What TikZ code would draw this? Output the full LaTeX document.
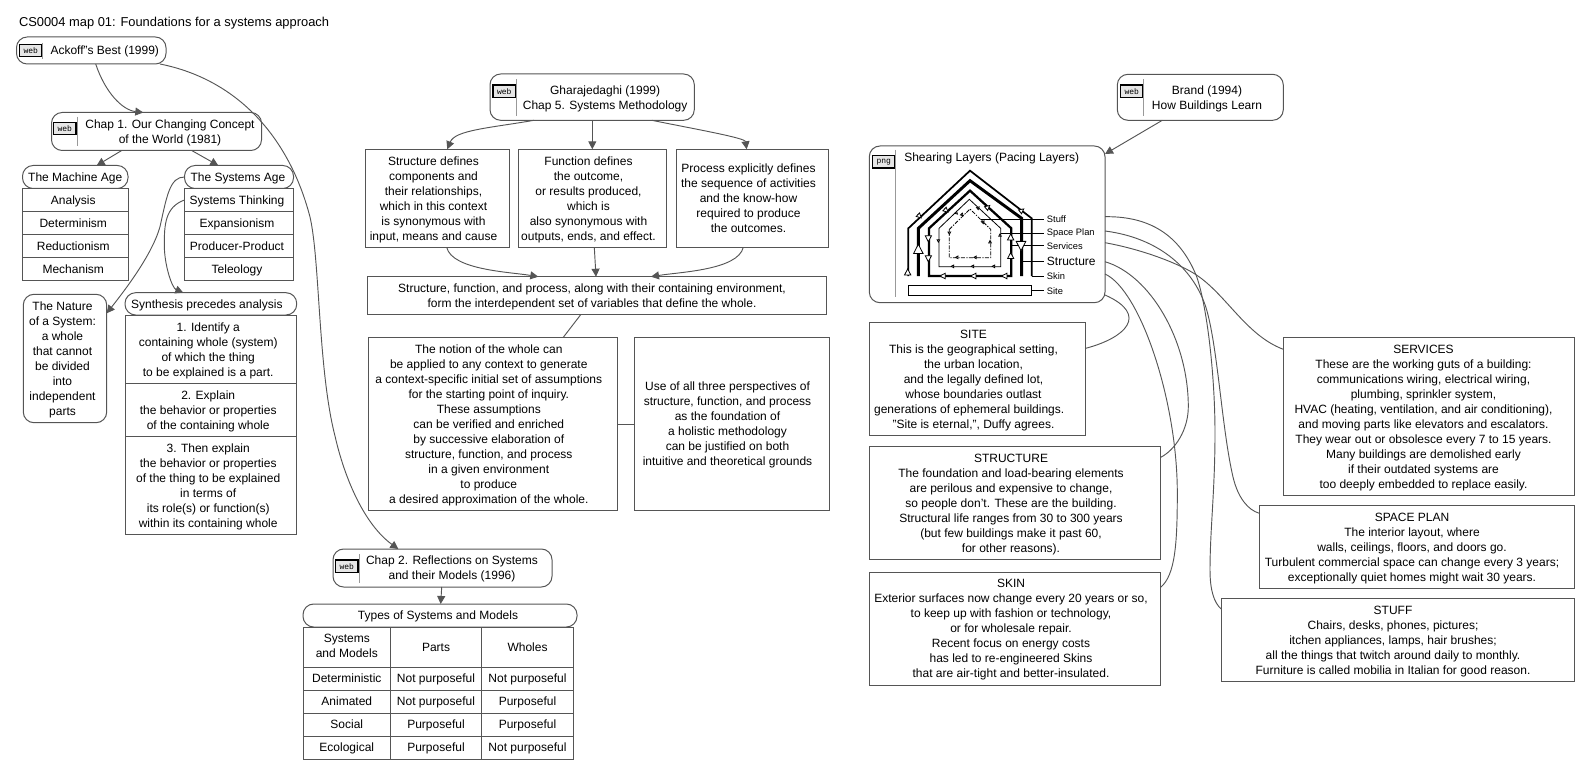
\documentclass[tikz,border=0pt]{standalone}
\usepackage{fontspec}
\setmainfont{Liberation Sans}
\setmonofont{Liberation Mono}
\usetikzlibrary{calc,arrows.meta}

\definecolor{linecol}{HTML}{555555}
\definecolor{sepcol}{HTML}{999999}
\definecolor{iconcol}{HTML}{E6E6E6}

\newcommand{\textpad}[2]{\hspace*{0.75\dimexpr#1pt\relax}\begin{tabular}{@{}c@{}}\rule{0pt}{10pt}#2\end{tabular}}

\tikzset{
    cellbox/.style 2 args={draw=linecol,line width=0.75pt,anchor=north west,inner sep=0pt,outer sep=0pt,
        minimum width=#1*0.75pt,minimum height=#2*0.75pt,align=center,
        font=\fontsize{9}{11.25}\selectfont,
        execute at begin node={\rule{0pt}{8.4pt}},execute at end node={\rule[-2pt]{0pt}{2pt}}},
    roundbox/.style 2 args={cellbox={#1}{#2},rounded corners=8pt},
    icon/.style={draw=black,line width=0.8pt,fill=iconcol,anchor=north west,inner sep=0pt,outer sep=0pt,
        minimum width=22.5*0.75pt,minimum height=12.3*0.75pt,font=\ttfamily\fontsize{6}{7}\selectfont},
    sepline/.style={draw=sepcol,line width=0.6pt},
    link/.style={draw=linecol,line width=0.7pt},
    arrowlink/.style={link,-{Triangle[length=6pt,width=6pt]}},
    plain/.style={inner sep=0pt,outer sep=0pt,font=\fontsize{9}{11.25}\selectfont},
    small/.style={inner sep=0pt,anchor=west,font=\fontsize{7}{8}\selectfont},
    tipline/.style={draw=black,line width=0.6pt,-{Triangle[open,fill=white,length=#1,width=#1]},shorten >=-1pt},
}

\begin{document}
\begin{tikzpicture}[x=0.75pt,y=-0.75pt]
    \useasboundingbox (0,0) rectangle (1591,777);

    \node[plain,anchor=west,font=\fontsize{9.67}{12}\selectfont] (title) at (19,23.5) {CS0004 map 01: Foundations for a systems approach};

    % left column
    \node[roundbox={149.5}{27}] (ackoff) at (16.5,37) {\textpad{27}{Ackoff"s Best (1999)}};
    \node[icon] (ackoffweb) at (19.5,44.5) {web};
    \draw[sepline] (42.3,42.7) -- (42.3,59.3);

    \node[roundbox={210}{38}] (chapone) at (51.5,112.5) {\textpad{27}{Chap 1. Our Changing Concept\\of the World (1981)}};
    \node[icon] (chaponeweb) at (53.5,122.5) {web};
    \draw[sepline] (77.3,116.7) -- (77.3,145.7);

    \node[roundbox={105.5}{23}] (machine) at (22.5,165.5) {The Machine Age};
    \node[roundbox={109}{23}] (sysage) at (184.5,165.5) {\textpad{-2}{The Systems Age}};
    \foreach \i/\t in {0/Analysis,1/Determinism,2/Reductionism,3/Mechanism}
    {
        \node[cellbox={105.5}{23}] (machine\i) at (22.5,{188.5+\i*23}) {\textpad{-4}{\t}};
    };
    \foreach \i/\t in {0/Systems Thinking,1/Expansionism,2/Producer-Product,3/Teleology}
    {
        \node[cellbox={109}{23}] (sysage\i) at (184.5,{188.5+\i*23}) {\textpad{-4}{\t}};
    };

    \node[roundbox={83.4}{128.4}] (nature) at (23.3,294.3) {\textpad{-5}{The Nature\\of a System:\\a whole\\that cannot\\be divided\\into\\independent\\parts}};
    \node[roundbox={171.7}{22.3}] (synth) at (125,292.7) {\textpad{-8}{Synthesis precedes analysis}};
    \node[cellbox={171}{68.3}] (synthone) at (125.7,315) {\textpad{-6}{1. Identify a\\containing whole (system)\\of which the thing\\to be explained is a part.}};
    \node[cellbox={171}{53}] (synthtwo) at (125.7,383.3) {\textpad{-6}{2. Explain\\the behavior or properties\\of the containing whole}};
    \node[cellbox={171}{98}] (synththree) at (125.7,436.3) {\textpad{-6}{3. Then explain\\the behavior or properties\\of the thing to be explained\\in terms of\\its role(s) or function(s)\\within its containing whole}};

    \draw[arrowlink] (95.7,0 |- ackoff.south) .. controls (105,92) and (122,110) .. (143.3,0 |- chapone.north);
    \draw[arrowlink] (121.7,0 |- chapone.south) -- (96.7,0 |- machine.north);
    \draw[arrowlink] (191.7,0 |- chapone.south) -- (218.3,0 |- sysage.north);
    \draw[arrowlink] (sysage.west) .. controls (170,177) and (167,195) .. (160,226.7) .. controls (152,255) and (125,290) .. (nature.east |- 0,313.3);
    \draw[arrowlink] (sysage0.west) .. controls (165,207) and (164.3,225) .. (164.3,245) .. controls (164.3,265) and (172,288) .. (183.3,0 |- synth.north);

    % chapter 2 and its table
    \node[roundbox={219}{38}] (chaptwo) at (333,549) {\textpad{19}{Chap 2. Reflections on Systems\\and their Models (1996)}};
    \node[icon] (chaptwoweb) at (335.5,560) {web};
    \draw[sepline] (359.3,554) -- (359.3,582.7);
    \node[roundbox={274}{23}] (types) at (303,604) {\textpad{-4}{Types of Systems and Models}};
    \node[cellbox={87}{40}] (typehead) at (303.3,627) {Systems\\and Models};
    \node[cellbox={91.4}{40}] (typeparts) at (390.3,627) {Parts};
    \node[cellbox={91.6}{40}] (typewholes) at (481.7,627) {Wholes};
    \foreach \i/\a/\b/\c in {0/Deterministic/Not purposeful/Not purposeful,
        1/Animated/Not purposeful/Purposeful,
        2/Social/Purposeful/Purposeful,
        3/Ecological/Purposeful/Not purposeful}
    {
        \node[cellbox={87}{23}] (typea\i) at (303.3,{667+\i*23}) {\a};
        \node[cellbox={91.4}{23}] (typeb\i) at (390.3,{667+\i*23}) {\b};
        \node[cellbox={91.6}{23}] (typec\i) at (481.7,{667+\i*23}) {\c};
    };
    \draw[arrowlink] (160,0 |- ackoff.south) .. controls (240,80) and (290,140) .. (310,217) .. controls (320,260) and (318,370) .. (335,436) .. controls (345,480) and (365,525) .. (398.3,0 |- chaptwo.north);
    \draw[arrowlink] (441.7,0 |- chaptwo.south) -- (440.7,0 |- types.north);

    % middle column
    \node[roundbox={204.3}{46.3}] (ghara) at (490,74) {\textpad{26}{Gharajedaghi (1999)\\Chap 5. Systems Methodology}};
    \node[icon] (gharaweb) at (493,85) {web};
    \draw[sepline] (516.3,79.3) -- (516.3,115.7);
    \node[cellbox={144.4}{98}] (structure) at (365.3,149.3) {\textpad{-8}{Structure defines\\components and\\their relationships,\\which in this context\\is synonymous with\\input, means and cause}};
    \node[cellbox={148.4}{98}] (function) at (518.3,149.3) {\textpad{-8}{Function defines\\the outcome,\\or results produced,\\which is\\also synonymous with\\outputs, ends, and effect.}};
    \node[cellbox={152.4}{98}] (process) at (676.3,149.3) {\textpad{-8}{Process explicitly defines\\the sequence of activities\\and the know-how\\required to produce\\the outcomes.}};
    \node[cellbox={459.4}{37.6}] (whole) at (367.3,276.7) {\textpad{-10}{Structure, function, and process, along with their containing environment,\\form the interdependent set of variables that define the whole.}};
    \node[cellbox={249}{173.4}] (notion) at (368.3,337.3) {\textpad{-8}{The notion of the whole can\\be applied to any context to generate\\a context-specific initial set of assumptions\\for the starting point of inquiry.\\These assumptions\\can be verified and enriched\\by successive elaboration of\\structure, function, and process\\in a given environment\\to produce\\a desired approximation of the whole.}};
    \node[cellbox={195.4}{173.4}] (perspect) at (634.3,337.3) {\textpad{-9}{Use of all three perspectives of\\structure, function, and process\\as the foundation of\\a holistic methodology\\can be justified on both\\intuitive and theoretical grounds}};

    \draw[arrowlink] (534,0 |- ghara.south) .. controls (490,128) and (455,130) .. (447.3,0 |- structure.north);
    \draw[arrowlink] (592.3,0 |- ghara.south) -- (592.3,0 |- function.north);
    \draw[arrowlink] (651.7,0 |- ghara.south) .. controls (700,130) and (745,138) .. (746.7,0 |- process.north);
    \draw[arrowlink] (446.7,0 |- structure.south) .. controls (452,270) and (510,272) .. (538.3,0 |- whole.north);
    \draw[arrowlink] (594.3,0 |- function.south) -- (596,0 |- whole.north);
    \draw[arrowlink] (743.3,0 |- process.south) .. controls (738,270) and (680,272) .. (651,0 |- whole.north);
    \draw[link] (581,0 |- whole.south) -- (563.3,0 |- notion.north);
    \draw[link] (notion.east |- 0,424.3) -- (perspect.west |- 0,424.3);

    % right column
    \node[roundbox={166}{46}] (brand) at (1117.3,74.3) {\textpad{13.4}{Brand (1994)\\How Buildings Learn}};
    \node[icon] (brandweb) at (1120.5,85) {web};
    \draw[sepline] (1143.3,79.3) -- (1143.3,115.7);

    \node[roundbox={235.7}{156.7}] (shearing) at (869.3,146) {};
    \node[icon] (shearingpng) at (872.5,155.7) {png};
    \draw[sepline] (895.3,150) -- (895.3,297);
    \node[plain,anchor=west] (shearingtitle) at (904.3,158.3) {Shearing Layers (Pacing Layers)};
    \draw[arrowlink] (1162.3,0 |- brand.south) -- (shearing.east |- 0,154);

    % house of layers, same scale as a 3x crop
    \begin{scope}[shift={(850,140)},x=0.25pt,y=-0.25pt]
        \draw[line width=1.3pt] (175,408) -- (175,265) -- (360,92) -- (545,235) -- (545,408);
        \draw[line width=0.6pt] (545,408) -- (583,408);
        \draw[line width=2.2pt] (205,408) -- (205,265) -- (360,122) -- (515,235) -- (515,408);
        \draw[line width=0.6pt] (515,365) -- (583,365);
        \draw[line width=1.7pt] (237,265) -- (360,152) -- (484,265) -- (484,408) -- (237,408) -- cycle;
        \draw[line width=0.6pt] (484,317) -- (583,317);
        \draw[line width=0.6pt] (267,265) -- (358,178) -- (452,265) -- (452,380) -- (267,380) -- cycle;
        \draw[line width=0.6pt] (452,280) -- (583,280);
        \draw[line width=0.6pt,dash pattern=on 3pt off 1pt on 1pt off 1pt] (298,268) -- (360,207) -- (422,268) -- (422,353) -- (298,353) -- cycle;
        \draw[line width=0.6pt] (393,238) -- (583,238);
        \draw[line width=0.6pt] (175,437) rectangle (545,466);
        \draw[line width=0.6pt] (545,452) -- (583,452);
        % direction marks on the layers
        \foreach \x/\y/\a/\s in {173/392/270/5.5pt,205/318/270/8pt,513/327/90/8pt,
            210/230/43/4.5pt,517/210/-38/4.5pt,290/213/43/4.5pt,415/200/-40/4.5pt,
            235/300/90/5.5pt,235/360/90/5.5pt,482/287/270/5.5pt,482/343/270/5.5pt,
            460/408/180/5pt,367/408/180/5pt,275/408/180/5pt}
        {
            \draw[tipline=\s] (\x,\y) ++(\a+180:4) -- ++(\a:8);
        };
        \foreach \x/\y/\a in {265/303/90,320/220/43,385/203/-43,450/285/270,
            430/379/180,367/379/180,307/379/180,
            298/280/90,337/225/45,400/245/-45,420/305/270,375/352/180,320/352/180}
        {
            \draw[tipline=2.8pt] (\x,\y) ++(\a+180:2) -- ++(\a:4);
        };
        \node[small] (labstuff) at (590,238) {Stuff};
        \node[small] (labspace) at (590,280) {Space Plan};
        \node[small] (labserv) at (590,317) {Services};
        \node[small,font=\fontsize{9}{11}\selectfont] (labstruct) at (590,365) {Structure};
        \node[small] (labskin) at (590,408) {Skin};
        \node[small] (labsite) at (590,452) {Site};
    \end{scope}

    \node[cellbox={216.4}{113}] (site) at (869.3,322.3) {\textpad{-8}{SITE\\This is the geographical setting,\\the urban location,\\and the legally defined lot,\\whose boundaries outlast\\generations of ephemeral buildings.\hspace*{6.5pt}\mbox{}\\"Site is eternal,", Duffy agrees.}};
    \node[cellbox={291.4}{113}] (structbox) at (869.3,446.3) {\textpad{-8}{STRUCTURE\\The foundation and load-bearing elements\\are perilous and expensive to change,\\so people don't. These are the building.\\Structural life ranges from 30 to 300 years\\(but few buildings make it past 60,\\for other reasons).}};
    \node[cellbox={291.4}{113}] (skin) at (869.3,572) {\textpad{-8}{SKIN\\Exterior surfaces now change every 20 years or so,\\to keep up with fashion or technology,\\or for wholesale repair.\\Recent focus on energy costs\\has led to re-engineered Skins\\that are air-tight and better-insulated.}};
    \node[cellbox={291.4}{158}] (services) at (1283.3,337.3) {\textpad{-11}{SERVICES\\These are the working guts of a building:\\communications wiring, electrical wiring,\\plumbing, sprinkler system,\\HVAC (heating, ventilation, and air conditioning),\\and moving parts like elevators and escalators.\\They wear out or obsolesce every 7 to 15 years.\\Many buildings are demolished early\\if their outdated systems are\\too deeply embedded to replace easily.}};
    \node[cellbox={315.4}{82.6}] (spaceplan) at (1259.3,505.7) {\textpad{-10}{SPACE PLAN\\The interior layout, where\\walls, ceilings, floors, and doors go.\\Turbulent commercial space can change every 3 years;\\exceptionally quiet homes might wait 30 years.}};
    \node[cellbox={353.4}{83}] (stuff) at (1221.3,598.3) {\textpad{-10}{STUFF\\Chairs, desks, phones, pictures;\\itchen appliances, lamps, hair brushes;\\all the things that twitch around daily to monthly.\\Furniture is called mobilia in Italian for good reason.}};

    \draw[link] (shearing.east |- 0,295) .. controls (1150,315) and (1125,338) .. (site.east |- 0,348.3);
    \draw[link] (shearing.east |- 0,261.7) .. controls (1150,275) and (1188.3,340) .. (1188.3,406.7) .. controls (1188.3,430) and (1175,450) .. (structbox.east |- 0,457.3);
    \draw[link] (shearing.east |- 0,274) .. controls (1140,290) and (1177.3,400) .. (1177.3,493) .. controls (1177.3,545) and (1175,575) .. (skin.east |- 0,587.3);
    \draw[link] (shearing.east |- 0,242.7) .. controls (1140,249) and (1175,262) .. (1193.3,273) .. controls (1225,292) and (1245,335) .. (services.west |- 0,349.3);
    \draw[link] (shearing.east |- 0,231) .. controls (1160,238) and (1195,270) .. (1206.7,310) .. controls (1218,350) and (1222,430) .. (1233,477) .. controls (1238,498) and (1248,510) .. (spaceplan.west |- 0,513.3);
    \draw[link] (shearing.east |- 0,216.7) .. controls (1155,216) and (1182,240) .. (1196.7,276.7) .. controls (1208,310) and (1215,380) .. (1215,433) .. controls (1215,490) and (1210,530) .. (1210,570) .. controls (1210,590) and (1214,603) .. (stuff.west |- 0,609);
\end{tikzpicture}
\end{document}
